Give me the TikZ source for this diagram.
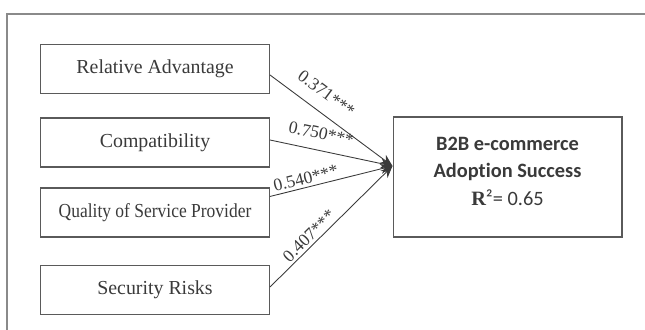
\documentclass[tikz,border=0pt]{standalone}
\usepackage{fontspec}
\setmainfont{Liberation Serif}
\newfontfamily\calibri[Ligatures=CommonOff]{Carlito}
\usetikzlibrary{positioning,arrows.meta,calc}
\definecolor{frameGray}{HTML}{8A8A8A}
\definecolor{boxGray}{HTML}{5A5A5A}
\definecolor{inkDark}{HTML}{3A3A3A}
\tikzset{
  every node/.style={font=\fontsize{11.3}{13}\selectfont, text=inkDark},
  factor/.style={draw=boxGray, line width=0.6pt, minimum width=4.58cm,
                 minimum height=0.98cm, inner sep=2pt},
  outcome/.style={draw=boxGray, line width=0.6pt, minimum width=4.58cm,
                  minimum height=2.4cm, align=center, inner sep=2pt,
                  font=\calibri\fontsize{11.6}{15.6}\selectfont},
  pathArrow/.style={-{Stealth[length=2.4mm, width=2mm]}, draw=inkDark,
                    line width=0.5pt},
  coef/.style={sloped, inner sep=1pt, font=\fontsize{10}{12}\selectfont},
}
\begin{document}
\begin{tikzpicture}[x=0.02cm, y=-0.02cm]
\useasboundingbox (0,0) rectangle (645,330);

% ------------------------------------------------------------ the frame
\draw[frameGray, line width=1.1pt] (7,330) -- (7,14) -- (645,14);

% ------------------------------------------------------- the four factors
\node[factor] (ra)   at (155,69)    {Relative Advantage};
\node[factor] (comp) at (155,142.5) {Compatibility};
\node[factor] (qsp)  at (155,212.5)
  {\scalebox{0.88}[1]{Quality of Service Provider}};
\node[factor] (sec)  at (155,290)   {Security Risks};

% ------------------------------------------------------------ the outcome
\node[outcome] (succ) at (507.5,177)
  {\textbf{B2B e-commerce}\\ \textbf{Adoption Success}\\
   {\rmfamily\bfseries R}²= 0.65\\[-9pt]\mbox{}};
\coordinate (hub) at ([yshift=0.22cm]succ.west);

% --------------------------------------------------- the path coefficients
\draw[pathArrow] ([yshift=-0.12cm]ra.east) -- (hub)
  node[coef, pos=0.37, above=6pt] {0.371***};
\draw[pathArrow] ([yshift=0.05cm]comp.east) -- (hub)
  node[coef, pos=0.39, above=5pt] {0.750***};
\draw[pathArrow] ([yshift=-0.18cm]qsp.north east) -- (hub)
  node[coef, pos=0.31, above=0.5pt] {0.540***};
\draw[pathArrow] ([yshift=0.06cm]sec.east) -- (hub)
  node[coef, pos=0.37, above=0.5pt] {0.407***};

\end{tikzpicture}
\end{document}
